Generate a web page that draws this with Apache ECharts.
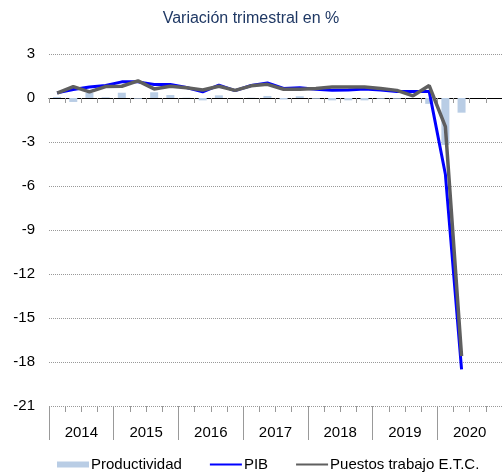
<!DOCTYPE html>
<html>
<head>
<meta charset="utf-8">
<script src="https://cdn.jsdelivr.net/npm/echarts@6/dist/echarts.min.js"></script>
<style>
  html, body { margin: 0; padding: 0; background: #fff; }
  #chart { width: 502px; height: 475px; }
</style>
</head>
<body>
<div id="chart"></div>
<script>
const years = ['2014', '2015', '2016', '2017', '2018', '2019', '2020'];
const quarters = years.flatMap(y => ['T1', 'T2', 'T3', 'T4'].map(q => y + q));

// variación trimestral en %, 2014T1 - 2020T2
const productividad = [0.07, -0.27, 0.34, 0.05, 0.36, -0.05, 0.39, 0.2, 0.02, -0.16, 0.18, 0,
  0.02, 0.14, -0.1, 0.12, -0.05, -0.16, -0.16, -0.16, -0.05, -0.05, 0, -0.4, -3.2, -1.0];
const pib = [0.35, 0.58, 0.75, 0.85, 1.1, 1.1, 0.92, 0.92, 0.72, 0.42, 0.88, 0.5,
  0.85, 1.03, 0.65, 0.7, 0.6, 0.52, 0.55, 0.62, 0.55, 0.45, 0.45, 0.45, -5.2, -18.5];
const puestos = [0.34, 0.78, 0.42, 0.78, 0.8, 1.17, 0.62, 0.8, 0.7, 0.55, 0.8, 0.52,
  0.83, 0.93, 0.6, 0.6, 0.65, 0.75, 0.75, 0.75, 0.64, 0.52, 0.15, 0.85, -1.95, -17.6];

const chart = echarts.init(document.getElementById('chart'));
const font = 'Liberation Sans, Arial, sans-serif';

const option = {
  animation: false,
  textStyle: { fontFamily: font },
  title: {
    text: 'Variación trimestral en %',
    left: 'center',
    top: 6,
    textStyle: { color: '#1f3864', fontSize: 16, fontWeight: 'normal', fontFamily: font }
  },
  grid: { left: 49, right: -2, top: 54, bottom: 69 },
  legend: {
    left: 52,
    top: 452,
    itemWidth: 32,
    itemHeight: 6,
    itemGap: 27,
    textStyle: { color: '#000', fontSize: 15, fontFamily: font, padding: [0, 0, 0, -3] },
    data: [
      { name: 'Productividad', icon: 'rect' },
      { name: 'PIB', itemStyle: { opacity: 0 } },
      { name: 'Puestos trabajo E.T.C.', itemStyle: { opacity: 0 } }
    ]
  },
  xAxis: [
    {
      type: 'category',
      data: quarters,
      axisLine: { onZero: true, lineStyle: { color: '#000', width: 1 } },
      axisTick: { show: true, interval: 0, length: 5, lineStyle: { color: '#999' } },
      axisLabel: { show: false },
      splitLine: { show: false }
    },
    {
      type: 'category',
      data: quarters,
      position: 'bottom',
      axisLine: { show: false, onZero: false },
      axisTick: { show: true, interval: 0, length: 6, lineStyle: { color: '#999' } },
      axisLabel: { show: false }
    },
    {
      type: 'category',
      data: years,
      position: 'bottom',
      axisLine: { show: false, onZero: false },
      axisTick: { show: true, interval: 0, length: 34, lineStyle: { color: '#999' } },
      axisLabel: { show: true, color: '#000', fontSize: 15, margin: 19, fontFamily: font }
    }
  ],
  yAxis: {
    type: 'value',
    min: -21,
    max: 3,
    interval: 3,
    axisLine: { show: false },
    axisTick: { show: false },
    axisLabel: { color: '#000', fontSize: 15, margin: 14, fontFamily: font },
    splitLine: { lineStyle: { color: '#999', type: 'dotted', width: 1 } }
  },
  series: [
    {
      name: 'Productividad',
      type: 'bar',
      xAxisIndex: 0,
      data: productividad,
      barWidth: 8,
      itemStyle: { color: '#b9cde5' }
    },
    {
      name: 'PIB',
      type: 'line',
      xAxisIndex: 0,
      data: pib,
      symbol: 'none',
      lineStyle: { color: '#0000ff', width: 3 },
      itemStyle: { color: '#0000ff' }
    },
    {
      name: 'Puestos trabajo E.T.C.',
      type: 'line',
      xAxisIndex: 0,
      data: puestos,
      symbol: 'none',
      lineStyle: { color: '#5f5f5f', width: 3.5 },
      itemStyle: { color: '#5f5f5f' }
    }
  ]
};

chart.setOption(option);
window.addEventListener('resize', () => chart.resize());
</script>
</body>
</html>
